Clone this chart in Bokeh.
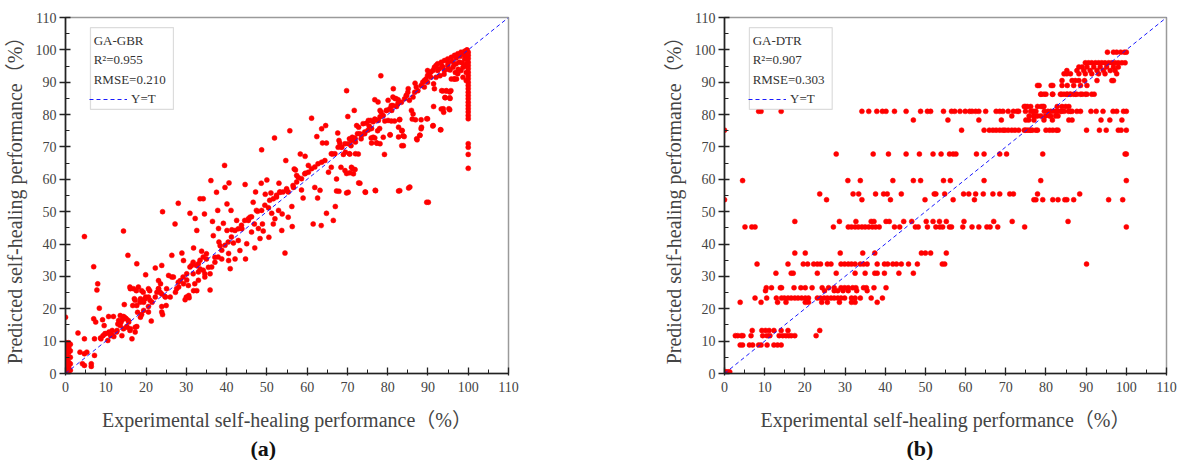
from bokeh.plotting import figure
from bokeh.models import (Range1d, SingleIntervalTicker, BoxAnnotation, Label,
                          Legend, LegendItem, Title, ColumnDataSource)
from bokeh.layouts import row
from bokeh.embed import file_html
from bokeh.resources import INLINE

# ---------------- data: panel (a) GA-GBR ----------------
diag_ends = [0, 110]

a_zero_exp = [0.2, 0.2, 0.2, 0.2, 0.2, 0.2, 0.2, 0.2, 0.2, 0.2,
              0.8, 0.8, 0.8, 0.8, 0.8, 0.8, 0.8, 1.2, 1.2, 1.2, 1.2, 1.2, 0.0]
a_zero_pred = [0.5, 1.5, 2.5, 3.5, 4.5, 5.5, 6.5, 7.5, 8.5, 9.5,
               0.5, 2.0, 3.5, 5.0, 6.5, 8.0, 9.5, 1.0, 3.0, 5.0, 7.0, 9.0, 17.4]

a_low_exp = [3.6, 4.7, 5.3, 4.2, 4.7, 6.4, 6.4, 7.2, 3.1, 4.7,
             7.2, 4.7, 7.0, 8.0, 7.8, 8.4, 7.0, 7.5, 9.2, 9.6,
             10.7, 11.9, 8.8, 9.8, 10.7, 11.5, 10.5, 12.7, 13.0, 13.2,
             13.8, 14.4, 14.8, 15.6, 15.2, 14.4, 14.0, 16.0, 16.5, 17.3,
             17.7, 14.4, 15.5, 17.7, 14.6, 16.0, 16.9, 18.1, 18.9, 17.1,
             17.7, 18.5, 19.4, 19.9, 20.6, 21.0, 19.9, 18.9, 20.6, 21.3,
             22.3, 23.1, 23.5, 23.9, 23.9, 24.1, 23.9, 24.1, 25.1, 24.7,
             8.7, 9.3, 11.6, 11.2, 12.0, 12.8, 13.6, 14.1, 14.5, 15.1,
             15.7, 13.6, 15.3, 16.1, 17.3, 18.6, 19.4, 17.9, 16.7, 17.3,
             18.6, 19.4, 19.8, 20.6, 20.9, 19.3, 17.6, 16.1, 20.6, 21.5,
             22.3, 22.7, 23.1, 23.6, 23.1, 23.9, 24.8, 25.0, 10.8, 9.9]
a_low_pred = [6.6, 6.1, 6.6, 3.0, 2.5, 3.0, 2.2, 5.6, 12.5, 10.7,
              10.7, 42.3, 33.0, 27.7, 25.8, 20.2, 16.9, 15.9, 16.6, 14.8,
              17.6, 17.6, 10.7, 12.3, 12.5, 12.0, 10.2, 12.8, 15.3, 16.4,
              15.9, 17.6, 17.2, 16.4, 14.5, 13.8, 11.7, 13.3, 10.7, 12.8,
              14.5, 44.0, 36.5, 33.9, 21.3, 26.7, 26.2, 26.7, 25.6, 23.1,
              21.0, 22.0, 22.6, 23.6, 26.2, 22.6, 30.5, 18.2, 19.0, 16.2,
              32.6, 26.2, 25.1, 20.7, 19.0, 18.2, 33.4, 50.0, 26.2, 23.8,
              11.0, 11.7, 13.3, 11.7, 11.4, 13.3, 14.8, 16.6, 17.4, 16.9,
              15.9, 17.9, 14.3, 13.8, 14.3, 17.4, 19.5, 18.9, 21.0, 22.6,
              23.1, 22.0, 23.1, 23.6, 25.6, 25.1, 25.6, 26.2, 20.7, 22.0,
              23.6, 25.1, 26.2, 27.7, 28.7, 24.6, 23.6, 21.0, 12.8, 12.3]

a_mid_exp = [25.6, 26.4, 26.8, 27.2, 27.6, 28.0, 28.0, 28.9, 29.3, 29.7,
             30.1, 30.5, 30.7, 30.9, 31.3, 31.8, 32.2, 31.8, 32.6, 32.6,
             33.0, 33.4, 33.4, 33.8, 34.2, 34.5, 34.6, 35.0, 35.5, 35.9,
             36.1, 36.5, 36.7, 37.1, 37.5, 37.8, 38.0, 38.1, 38.4, 38.8,
             39.2, 39.5, 39.6, 40.1, 40.1, 40.5, 40.5, 40.6, 40.9, 41.1,
             41.3, 41.7, 42.1, 42.5, 42.9, 43.3, 43.8, 44.6, 44.7, 45.0,
             45.4, 45.8, 46.2, 46.6, 46.9, 47.0, 47.2, 47.7, 47.9, 48.3,
             48.6, 48.9, 49.1, 49.6,
             29.2, 30.1, 30.9, 31.7, 32.5, 33.4, 34.2, 35.0, 31.7, 33.0,
             34.2, 32.1, 33.0, 34.6, 35.9, 36.3, 37.1, 37.9, 38.8, 39.6,
             40.4, 41.2, 42.1, 42.9, 43.7, 44.5, 45.4, 46.2, 47.4, 48.7,
             49.5, 48.7, 26.0, 26.4, 27.3, 28.1, 28.5, 29.3, 30.0, 30.6]
a_mid_pred = [30.3, 36.5, 29.8, 46.2, 26.2, 52.6, 28.2, 37.2, 34.9, 22.8,
              28.9, 27.2, 23.4, 49.5, 33.4, 38.8, 47.9, 25.6, 25.6, 44.2,
              33.9, 32.3, 54.0, 37.8, 54.0, 49.3, 30.8, 35.4, 32.8, 25.8,
              59.6, 47.0, 42.6, 35.9, 56.0, 50.4, 44.8, 40.6, 39.5, 35.4,
              46.4, 64.3, 57.5, 52.4, 44.2, 37.1, 34.9, 58.9, 32.4, 50.4,
              44.4, 40.3, 35.4, 47.3, 41.1, 38.0, 44.7, 58.4, 35.4, 40.1,
              47.3, 48.3, 43.7, 52.9, 46.2, 38.8, 56.1, 50.1, 44.8, 41.7,
              58.8, 46.2, 44.0, 55.4,
              29.8, 30.8, 32.9, 34.4, 33.4, 35.0, 36.0, 37.0, 30.8, 31.4,
              31.9, 27.7, 28.8, 29.8, 30.8, 32.9, 34.4, 36.0, 38.1, 39.6,
              40.6, 42.2, 44.2, 44.7, 45.8, 47.3, 47.8, 48.4, 50.4, 50.4,
              52.0, 69.1, 23.6, 29.8, 25.1, 26.7, 28.7, 27.7, 23.6, 24.1]

a_up_exp = [50.0, 50.4, 50.5, 51.0, 51.2, 51.6, 51.9, 52.0, 52.4, 52.9,
            53.0, 53.3, 53.7, 53.8, 54.5, 54.7, 54.9, 55.3, 55.7, 56.2,
            56.3, 56.6, 56.8, 57.1, 57.4, 57.8, 58.3, 58.6, 59.0, 59.5,
            59.6, 60.3, 61.1, 61.5, 61.9, 62.4, 62.6, 63.2, 63.5, 63.6,
            63.8, 64.6, 64.8, 64.8, 65.3, 66.0, 66.3, 66.5, 67.0, 67.3,
            67.6, 67.9, 68.1, 68.4, 68.6, 69.0, 69.4, 69.8, 70.1, 70.2,
            70.6, 71.0, 71.2, 71.5, 71.7, 71.9, 72.3, 72.7, 73.1, 73.4,
            73.9, 74.5, 75.2, 75.6, 76.0, 76.4, 77.0, 77.3, 77.7, 78.1,
            78.3, 78.9, 79.2, 79.7, 80.1, 80.6, 81.0, 81.4, 81.8, 82.2,
            82.6, 83.0, 83.0, 83.5, 83.9, 84.1, 84.7, 85.1, 85.5, 85.9,
            86.3, 86.8, 87.2, 88.0, 88.4, 89.9, 89.9, 90.1,
            50.7, 51.6, 52.4, 53.2, 54.0, 54.9, 55.3, 56.5, 57.4, 58.6,
            59.4, 60.3, 61.1, 61.9, 62.7, 63.6, 64.4, 66.0, 66.9, 68.5,
            69.4, 70.2, 71.0, 71.9, 73.1, 74.3,
            76.8, 77.6, 80.1, 81.3, 82.1, 80.9, 82.5, 83.4, 84.2, 84.6,
            85.0, 85.4, 86.3, 86.7, 87.1, 87.5, 88.3, 88.7, 89.1, 89.5,
            86.1, 86.9, 88.3, 89.7, 83.6, 82.9, 81.7, 78.4, 76.8, 75.8,
            75.4, 78.0, 79.3, 80.9, 82.7, 83.8, 82.7, 83.5, 88.0, 87.3,
            88.3, 77.3, 78.1, 76.8, 75.9, 80.6, 77.5, 72.5, 72.8, 71.8,
            72.0, 70.9, 70.5, 69.5, 70.5, 72.0, 67.7, 67.9, 71.3, 70.6,
            69.8, 72.8, 69.8, 67.3, 74.4, 76.9, 82.7, 85.2, 89.7,
            78.9, 79.7, 80.5, 81.3, 76.0, 76.4, 77.2, 78.1, 75.1, 74.3,
            73.5, 74.7]
a_up_pred = [59.8, 51.2, 42.1, 55.8, 49.5, 46.2, 72.8, 47.8, 54.5, 50.4,
             58.8, 56.0, 44.2, 49.3, 37.2, 65.8, 56.6, 48.3, 75.0, 51.6,
             45.4, 57.5, 63.2, 62.9, 61.2, 60.6, 67.8, 56.7, 54.2, 67.1,
             61.9, 64.3, 78.9, 46.2, 57.5, 73.2, 54.2, 56.6, 45.7, 75.6,
             71.2, 76.6, 71.2, 49.5, 62.2, 63.7, 67.8, 47.3, 51.6, 60.1,
             74.3, 56.3, 71.2, 63.7, 69.9, 67.7, 62.7, 87.4, 79.4, 56.0,
             67.8, 63.7, 73.0, 61.7, 81.3, 63.0, 76.6, 67.8, 58.8, 72.5,
             77.2, 56.0, 78.2, 75.6, 71.2, 73.0, 56.5, 71.2, 78.2, 81.3,
             92.0, 73.0, 67.7, 81.3, 78.2, 73.8, 81.3, 88.0, 85.0, 82.5,
             84.6, 56.5, 78.5, 75.0, 70.4, 73.2, 85.9, 88.0, 57.6, 81.3,
             80.2, 89.7, 72.5, 73.6, 76.1, 93.6, 78.7, 52.9,
             53.5, 54.0, 55.1, 56.1, 56.1, 57.1, 56.1, 58.1, 59.2, 60.2,
             61.7, 62.2, 63.3, 63.8, 64.8, 65.3, 65.8, 67.9, 67.9, 70.0,
             71.0, 71.0, 72.0, 72.5, 74.1, 74.6,
             84.6, 83.9, 84.4, 85.4, 84.9, 82.8, 83.3, 83.8, 84.9, 85.9,
             86.9, 84.4, 85.4, 86.9, 88.5, 87.4, 89.0, 90.0, 90.5, 91.0,
             78.6, 78.4, 78.4, 78.7, 75.1, 78.4, 78.0, 80.7, 78.6, 78.2,
             76.5, 75.7, 78.0, 78.0, 76.1, 73.5, 73.1, 70.4, 73.6, 72.2,
             75.6, 71.2, 71.0, 72.8, 72.8, 73.7, 75.0, 74.1, 76.1, 72.8,
             71.5, 70.4, 72.5, 68.4, 67.9, 67.9, 69.9, 72.0, 63.3, 62.0,
             61.8, 58.9, 55.8, 56.4, 56.1, 56.6, 56.4, 57.3, 52.9,
             79.7, 81.3, 81.8, 82.8, 75.7, 77.8, 78.3, 79.3, 75.2, 74.1,
             73.6, 77.3]

a_top_exp = [91.3, 93.2, 93.4, 93.8, 94.2, 94.6, 95.2, 95.5, 95.7, 96.5,
             97.1, 89.9, 90.3, 90.7, 91.2, 91.6, 92.0, 92.4, 93.3, 94.1,
             94.9, 95.8, 96.6, 97.4, 98.2, 99.1, 99.7, 92.4, 93.7, 94.9,
             96.2, 97.0, 97.8, 98.7, 99.1, 98.2, 97.4, 96.6, 95.8, 98.7,
             99.5, 94.1, 89.9, 90.7, 89.1, 91.4, 91.6, 93.7, 94.5, 95.4,
             94.3, 95.4, 93.3, 93.9, 95.4, 91.4, 93.1, 91.2,
             92.8, 93.5, 95.0, 96.0, 97.0, 98.0, 99.0, 96.5, 97.5, 98.5,
             99.3, 99.5, 95.5, 96.8, 92.0, 93.0, 94.0, 95.0]
a_top_pred = [76.6, 75.3, 87.4, 81.8, 85.3, 87.4, 81.8, 85.0, 87.4, 91.0,
              91.0, 92.1, 92.6, 93.1, 93.6, 94.6, 95.2, 95.7, 96.2, 96.7,
              97.2, 97.7, 98.3, 98.8, 99.3, 99.6, 100.0, 93.6, 94.6, 95.2,
              94.6, 95.7, 96.2, 94.6, 97.2, 93.6, 92.6, 91.0, 91.0, 91.5,
              90.5, 93.6, 90.0, 91.5, 88.5, 89.5, 88.0, 87.3, 87.3, 87.0,
              85.2, 85.2, 81.7, 80.7, 81.5, 82.5, 75.3, 76.5,
              94.2, 95.0, 96.0, 96.5, 97.5, 98.0, 98.5, 95.5, 94.0, 96.0,
              95.0, 93.0, 93.8, 93.0, 91.5, 92.0, 92.5, 94.0]

a_col_exp = [100.0, 100.0, 100.0, 100.0, 100.0, 100.0, 100.0, 100.0, 100.0, 100.0,
             100.0, 100.0, 100.0, 100.0, 100.0, 100.0, 100.0, 100.0, 100.0, 100.0,
             100.0, 100.0, 100.0, 100.0, 100.0, 99.6, 99.6, 99.6]
a_col_pred = [99.3, 98.3, 97.3, 96.2, 95.2, 94.2, 93.1, 92.1, 91.1, 90.0,
              89.0, 88.0, 86.9, 85.9, 84.9, 83.8, 82.8, 81.8, 80.8, 79.7,
              78.7, 71.0, 69.9, 67.7, 63.4, 99.8, 97.8, 95.8]

# ---------------- data: panel (b) GA-DTR (discrete predicted levels) ----------------
b_x_at_0_5 = [0.0, 0.3, 0.6, 1.0, 1.3]
b_x_at_8_8 = [3.9, 4.5, 6.2, 7.0, 8.5, 9.1, 10.6, 12.3, 13.2, 14.1]
b_x_at_11_7 = [2.7, 3.3, 4.2, 4.6, 6.6, 9.5, 10.6, 11.3, 13.6, 14.5, 15.3, 16.0, 16.6, 17.5, 22.8]
b_x_at_13_3 = [6.9, 9.3, 10.2, 11.1, 12.3, 14.1, 15.8, 23.7]
b_x_at_22_0 = [3.9, 9.1, 13.2, 15.3, 20.1, 20.9, 24.2, 25.6, 28.6, 31.6, 32.5, 38.0]
b_x_at_23_3 = [7.6, 10.5, 12.9, 14.2, 14.9, 15.8, 16.6, 17.5, 18.3, 19.2, 20.1, 20.9, 23.1,
               23.9, 24.8, 25.6, 26.5, 27.3, 28.2, 29.0, 29.9, 31.6, 32.5, 33.8, 36.5, 39.3]
b_x_at_25_6 = [10.2, 24.9, 27.3, 28.2, 29.5, 30.8, 32.9, 35.5]
b_x_at_26_5 = [10.4, 11.7, 13.9, 14.2, 17.3, 19.0, 20.1, 21.8, 24.3, 25.9, 27.3, 29.0, 29.9,
               30.8, 31.9, 32.7, 34.6, 35.3, 37.2, 40.2]
b_x_at_31_0 = [12.8, 16.6, 17.1, 23.1, 27.8, 32.5, 35.0, 37.4, 38.0, 39.8, 43.4, 47.0]
b_x_at_33_8 = [8.1, 15.8, 19.6, 20.7, 22.2, 23.1, 23.9, 25.6, 26.5, 29.0, 29.9, 30.8, 31.6,
               32.5, 33.8, 34.6, 35.5, 38.0, 39.8, 40.6, 41.9, 42.8, 44.0, 45.8, 48.0, 54.2,
               54.8, 90.1]
b_x_at_37_2 = [17.5, 20.1, 28.8, 34.4, 37.4, 49.0, 50.0, 51.3, 55.2]
b_x_at_45_3 = [5.1, 6.8, 7.6, 27.1, 30.8, 31.6, 32.5, 33.3, 34.2, 35.0, 35.9, 36.8, 37.6, 38.5,
               42.3, 43.6, 47.5, 48.2, 50.5, 52.6, 53.6, 54.3, 56.0, 56.5, 59.3, 61.6, 63.3,
               65.3, 66.1, 68.0, 74.7, 100.0]
b_x_at_47_0 = [17.5, 28.6, 32.7, 36.5, 37.2, 40.2, 41.0, 44.6, 46.6, 50.2, 51.9, 53.5, 55.2,
               59.6, 67.0, 71.6, 85.5]
b_x_at_53_7 = [0.0, 25.4, 34.2, 41.3, 49.9, 56.9, 62.2, 77.0, 77.5, 79.2, 81.7, 83.0, 84.7,
               85.2, 86.9, 95.6, 99.1]
b_x_at_55_5 = [23.7, 32.0, 33.4, 37.6, 39.6, 40.5, 44.0, 52.2, 52.6, 54.8, 59.5, 60.8, 62.5,
               64.4, 66.8, 68.5, 71.0, 71.9, 77.9, 88.4]
b_x_at_59_6 = [4.5, 30.7, 33.8, 41.9, 47.0, 48.8, 54.5, 56.2, 64.6, 78.7, 100.0]
b_x_at_67_8 = [27.8, 37.0, 40.8, 45.2, 48.5, 51.9, 53.9, 56.0, 56.9, 57.6, 62.7, 64.6, 68.5,
               70.2, 79.2, 99.7, 100.0]
b_x_at_75_2 = [0.0, 59.0, 64.6, 65.9, 66.8, 67.6, 68.5, 69.3, 69.8, 70.6, 71.5, 72.3, 73.2,
               74.6, 74.9, 75.3, 75.8, 76.2, 76.6, 77.5, 77.9, 80.0, 80.9, 81.7, 82.6, 83.0,
               90.1, 93.3, 95.0, 98.0, 98.7, 100.0]
b_x_at_78_3 = [47.0, 55.6, 63.3, 68.9, 75.0, 75.7, 77.0, 79.5, 81.6, 85.7, 86.5, 93.7, 95.9, 98.9]
b_x_at_79_6 = [71.5, 75.8, 76.9, 77.5, 77.9, 78.7, 79.9, 80.9, 81.2, 82.4, 83.0]
b_x_at_81_0 = [8.5, 9.1, 14.1, 34.2, 35.9, 37.9, 39.3, 40.2, 42.3, 45.2, 48.8, 50.5, 51.3,
               54.5, 56.5, 57.3, 58.6, 59.9, 61.0, 61.6, 62.5, 63.3, 65.0, 67.6, 68.5, 69.3,
               70.6, 71.9, 72.8, 73.2, 74.9, 76.2, 76.6, 77.0, 77.5, 79.6, 80.5, 81.2, 82.0,
               82.6, 82.8, 83.6, 83.9, 84.5, 85.6, 86.1, 86.5, 87.7, 88.6, 91.2, 92.5, 94.2,
               96.7, 97.6, 99.3, 100.0]
b_x_at_82_5 = [74.6, 74.9, 75.4, 76.2, 77.9, 78.8, 79.2, 79.5, 82.8, 84.0, 84.9, 85.7]
b_x_at_86_3 = [78.7, 78.8, 79.5, 80.0, 81.6, 81.7, 83.6, 83.9, 84.5, 85.2, 85.3, 86.0, 86.1,
               86.9, 87.3, 87.7, 88.6, 89.0, 89.8, 90.2, 91.4, 92.0]
b_x_at_89_0 = [77.9, 78.3, 81.3, 81.7, 84.0, 85.3, 86.9, 88.6, 90.2]
b_x_at_90_5 = [84.0, 86.5, 87.3, 88.2, 89.6, 92.7, 96.4, 96.8]
b_x_at_92_6 = [84.5, 85.2, 86.1, 88.2, 89.8, 91.4, 93.1, 94.7, 97.6]
b_x_at_93_6 = [85.2, 87.7, 89.4, 91.0, 92.7, 94.3, 96.0, 97.2]
b_x_at_94_7 = [88.2, 89.0, 90.2, 91.9, 93.5, 95.1, 96.8, 98.0]
b_x_at_96_0 = [89.8, 90.6, 91.4, 92.3, 93.1, 93.9, 94.7, 95.6, 96.4, 97.2, 98.0, 98.9, 99.7]
b_x_at_99_3 = [95.3, 96.8, 97.6, 98.6, 99.5, 100.0]

b_levels = [0.5, 8.8, 11.7, 13.3, 22.0, 23.3, 25.6, 26.5, 31.0, 33.8, 37.2, 45.3, 47.0,
            53.7, 55.5, 59.6, 67.8, 75.2, 78.3, 79.6, 81.0, 82.5, 86.3, 89.0, 90.5,
            92.6, 93.6, 94.7, 96.0, 99.3]
b_x_lists = [b_x_at_0_5, b_x_at_8_8, b_x_at_11_7, b_x_at_13_3, b_x_at_22_0, b_x_at_23_3,
             b_x_at_25_6, b_x_at_26_5, b_x_at_31_0, b_x_at_33_8, b_x_at_37_2, b_x_at_45_3,
             b_x_at_47_0, b_x_at_53_7, b_x_at_55_5, b_x_at_59_6, b_x_at_67_8, b_x_at_75_2,
             b_x_at_78_3, b_x_at_79_6, b_x_at_81_0, b_x_at_82_5, b_x_at_86_3, b_x_at_89_0,
             b_x_at_90_5, b_x_at_92_6, b_x_at_93_6, b_x_at_94_7, b_x_at_96_0, b_x_at_99_3]

# ---------------- build ----------------
exp_a = a_zero_exp + a_low_exp + a_mid_exp + a_up_exp + a_top_exp + a_col_exp
pred_a = a_zero_pred + a_low_pred + a_mid_pred + a_up_pred + a_top_pred + a_col_pred

exp_b, pred_b = [], []
for lvl, xs in zip(b_levels, b_x_lists):
    exp_b += xs
    pred_b += [lvl] * len(xs)

SERIF = "'Liberation Serif', 'Noto Sans CJK SC'"
TXT = "#333333"


def panel(exp, pred, name, r2, rmse, caption, fw, bl, br, cap_off):
    p = figure(output_backend="svg", toolbar_location=None,
               frame_width=fw, frame_height=356,
               min_border_left=bl, min_border_right=br,
               min_border_top=17, min_border_bottom=85,
               x_range=Range1d(0, 110), y_range=Range1d(0, 110))
    p.grid.visible = False
    p.outline_line_color = "#9a9a9a"
    p.outline_line_width = 1.5
    p.background_fill_color = "white"
    p.border_fill_color = "white"

    for ax in (p.xaxis[0], p.yaxis[0]):
        ax.ticker = SingleIntervalTicker(interval=10, num_minor_ticks=2)
        ax.axis_line_color = "#222222"
        ax.axis_line_width = 1.6
        ax.major_tick_line_color = "#222222"
        ax.minor_tick_line_color = "#222222"
        ax.major_tick_line_width = 1.3
        ax.minor_tick_line_width = 1.0
        ax.major_label_text_font = SERIF
        ax.major_label_text_font_size = "14px"
        ax.major_label_text_color = "#444444"
        ax.axis_label_text_font = SERIF
        ax.axis_label_text_font_size = "20px"
        ax.axis_label_text_font_style = "normal"
        ax.axis_label_text_color = "#444444"

    p.yaxis.major_tick_in = 5
    p.yaxis.major_tick_out = 6
    p.yaxis.minor_tick_in = 4
    p.yaxis.minor_tick_out = 0
    p.yaxis.major_label_standoff = 3
    p.yaxis.axis_label_standoff = 7
    p.xaxis.major_tick_in = 6
    p.xaxis.major_tick_out = 2
    p.xaxis.minor_tick_in = 4
    p.xaxis.minor_tick_out = 0
    p.xaxis.major_label_standoff = 6
    p.xaxis.axis_label_standoff = 14

    p.xaxis.axis_label = "Experimental self-healing performance（%）"
    p.yaxis.axis_label = "Predicted self-healing performance（%）"

    src = ColumnDataSource(dict(x=exp, y=pred))
    p.scatter("x", "y", source=src, size=5, fill_color="#ff0000",
              line_color="#ff0000", line_width=0.5)
    diag = p.line(diag_ends, diag_ends, line_color="#1a1aff", line_width=1,
                  line_dash="4 3")

    box = BoxAnnotation(left=6.2, right=26.8, bottom=81.6, top=106.9,
                        fill_color="white", fill_alpha=1.0,
                        line_color="#8a8a8a", line_width=1.2)
    p.add_layout(box)
    for txt, yy in ((name, 103.0), (r2, 96.9), (rmse, 90.7)):
        p.add_layout(Label(x=7.0, y=yy, text=txt, text_baseline="middle",
                           text_font=SERIF, text_font_size="13px",
                           text_color=TXT))
    leg = Legend(items=[LegendItem(label="Y=T", renderers=[diag])],
                 location=(24, 266), padding=0, margin=0, spacing=0,
                 glyph_width=38, glyph_height=14, label_height=14,
                 label_standoff=4, background_fill_alpha=0,
                 border_line_alpha=0, label_text_font=SERIF,
                 label_text_font_size="13px", label_text_color=TXT)
    p.add_layout(leg)

    p.add_layout(Title(text=caption, align="left", offset=cap_off,
                       text_font="'Liberation Serif'", text_font_size="22px",
                       text_font_style="bold", text_color="#111111",
                       standoff=0), "below")
    return p


p1 = panel(exp_a, pred_a, "GA-GBR", "R²=0.955", "RMSE=0.210", "(a)",
           443, 59, 151, 185)
p2 = panel(exp_b, pred_b, "GA-DTR", "R²=0.907", "RMSE=0.303", "(b)",
           442, 62, 14, 182)

layout = row(p1, p2, spacing=0)
open("out.html", "w").write(file_html(layout, INLINE))
